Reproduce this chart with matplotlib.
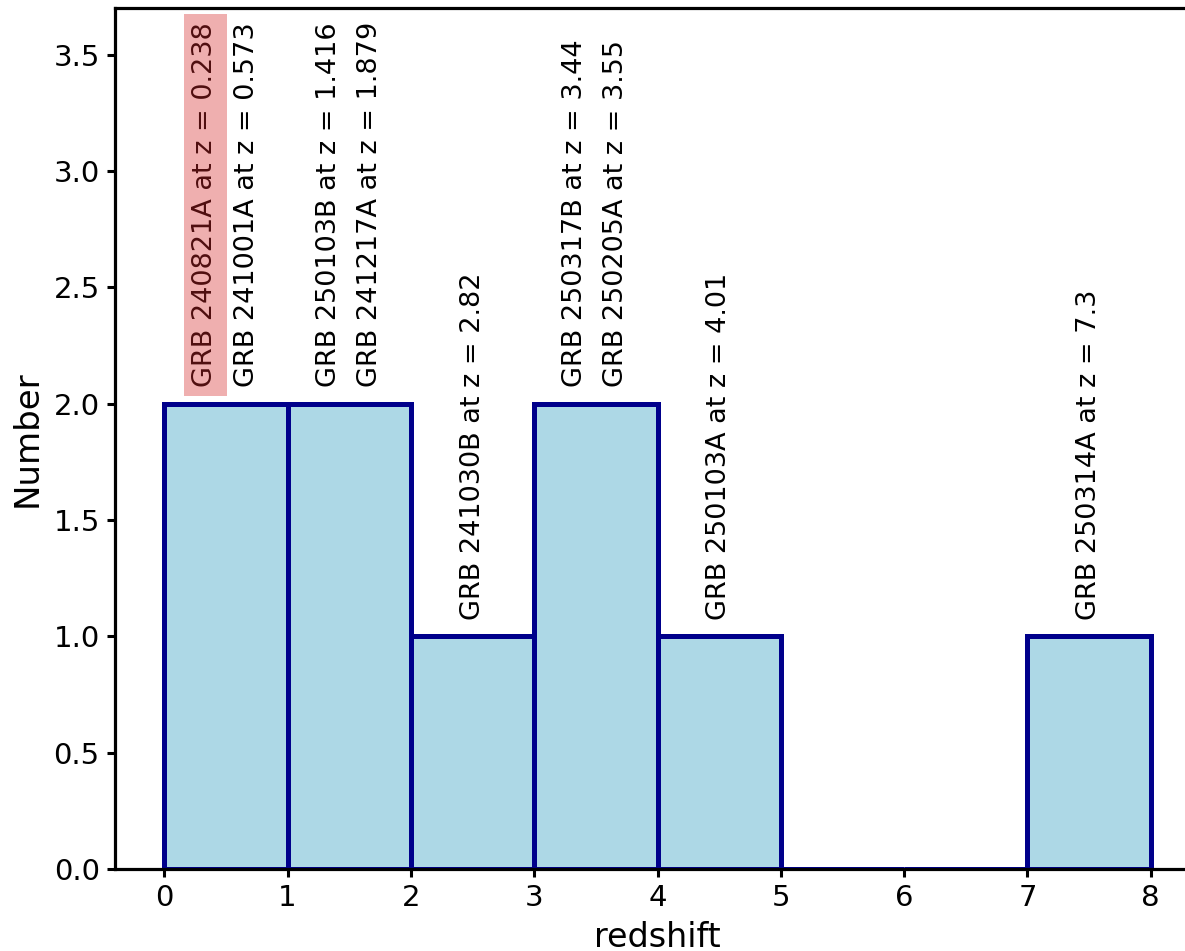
import matplotlib
matplotlib.use('Agg')
import matplotlib.pyplot as plt
import numpy as np

# GRB redshifts (order inside each bin as in the plot)
grb_names = ['GRB 240821A', 'GRB 241001A', 'GRB 250103B', 'GRB 241217A',
             'GRB 241030B', 'GRB 250317B', 'GRB 250205A', 'GRB 250103A',
             'GRB 250314A']
grb_z = [0.238, 0.573, 1.416, 1.879, 2.82, 3.44, 3.55, 4.01, 7.3]
highlight = 'GRB 240821A'

bin_edges = np.arange(0, 9, 1)

fig = plt.figure(figsize=(11.85, 9.51), dpi=100)
ax = fig.add_axes([115/1185, 82/951, 1085/1185, 861/951])

counts, edges, patches = ax.hist(grb_z, bins=bin_edges, color='lightblue',
                                 edgecolor='darkblue', linewidth=3.6)

# labels for each bin, spread across the bin width
for i in range(len(edges) - 1):
    in_bin = [k for k in range(len(grb_z)) if edges[i] <= grb_z[k] < edges[i+1]]
    n = len(in_bin)
    for j, k in enumerate(in_bin):
        x = edges[i] + (j + 1) / (n + 1)
        label = f'{grb_names[k]} at z = {grb_z[k]}'
        if grb_names[k] == highlight:
            ax.text(x, counts[i] + 0.07, label, rotation=90, ha='center',
                    va='bottom', fontsize=19.5, color='#4f0e0f',
                    bbox=dict(facecolor='tab:red', alpha=0.37,
                              edgecolor='none', pad=6))
        else:
            ax.text(x, counts[i] + 0.07, label, rotation=90, ha='center',
                    va='bottom', fontsize=19.5)

ax.set_ylim(0, 3.7)
ax.set_xlim(-0.4, 8.4)
ax.set_xticks(range(0, 9))
ax.set_yticks(np.arange(0, 3.6, 0.5))
ax.set_xlabel('redshift', fontsize=24, labelpad=6)
ax.set_ylabel('Number', fontsize=24.5, labelpad=7)
ax.tick_params(labelsize=21, length=6, width=2.2, pad=5)
for s in ax.spines.values():
    s.set_linewidth(2.3)

fig.savefig('out.png', dpi=100)
